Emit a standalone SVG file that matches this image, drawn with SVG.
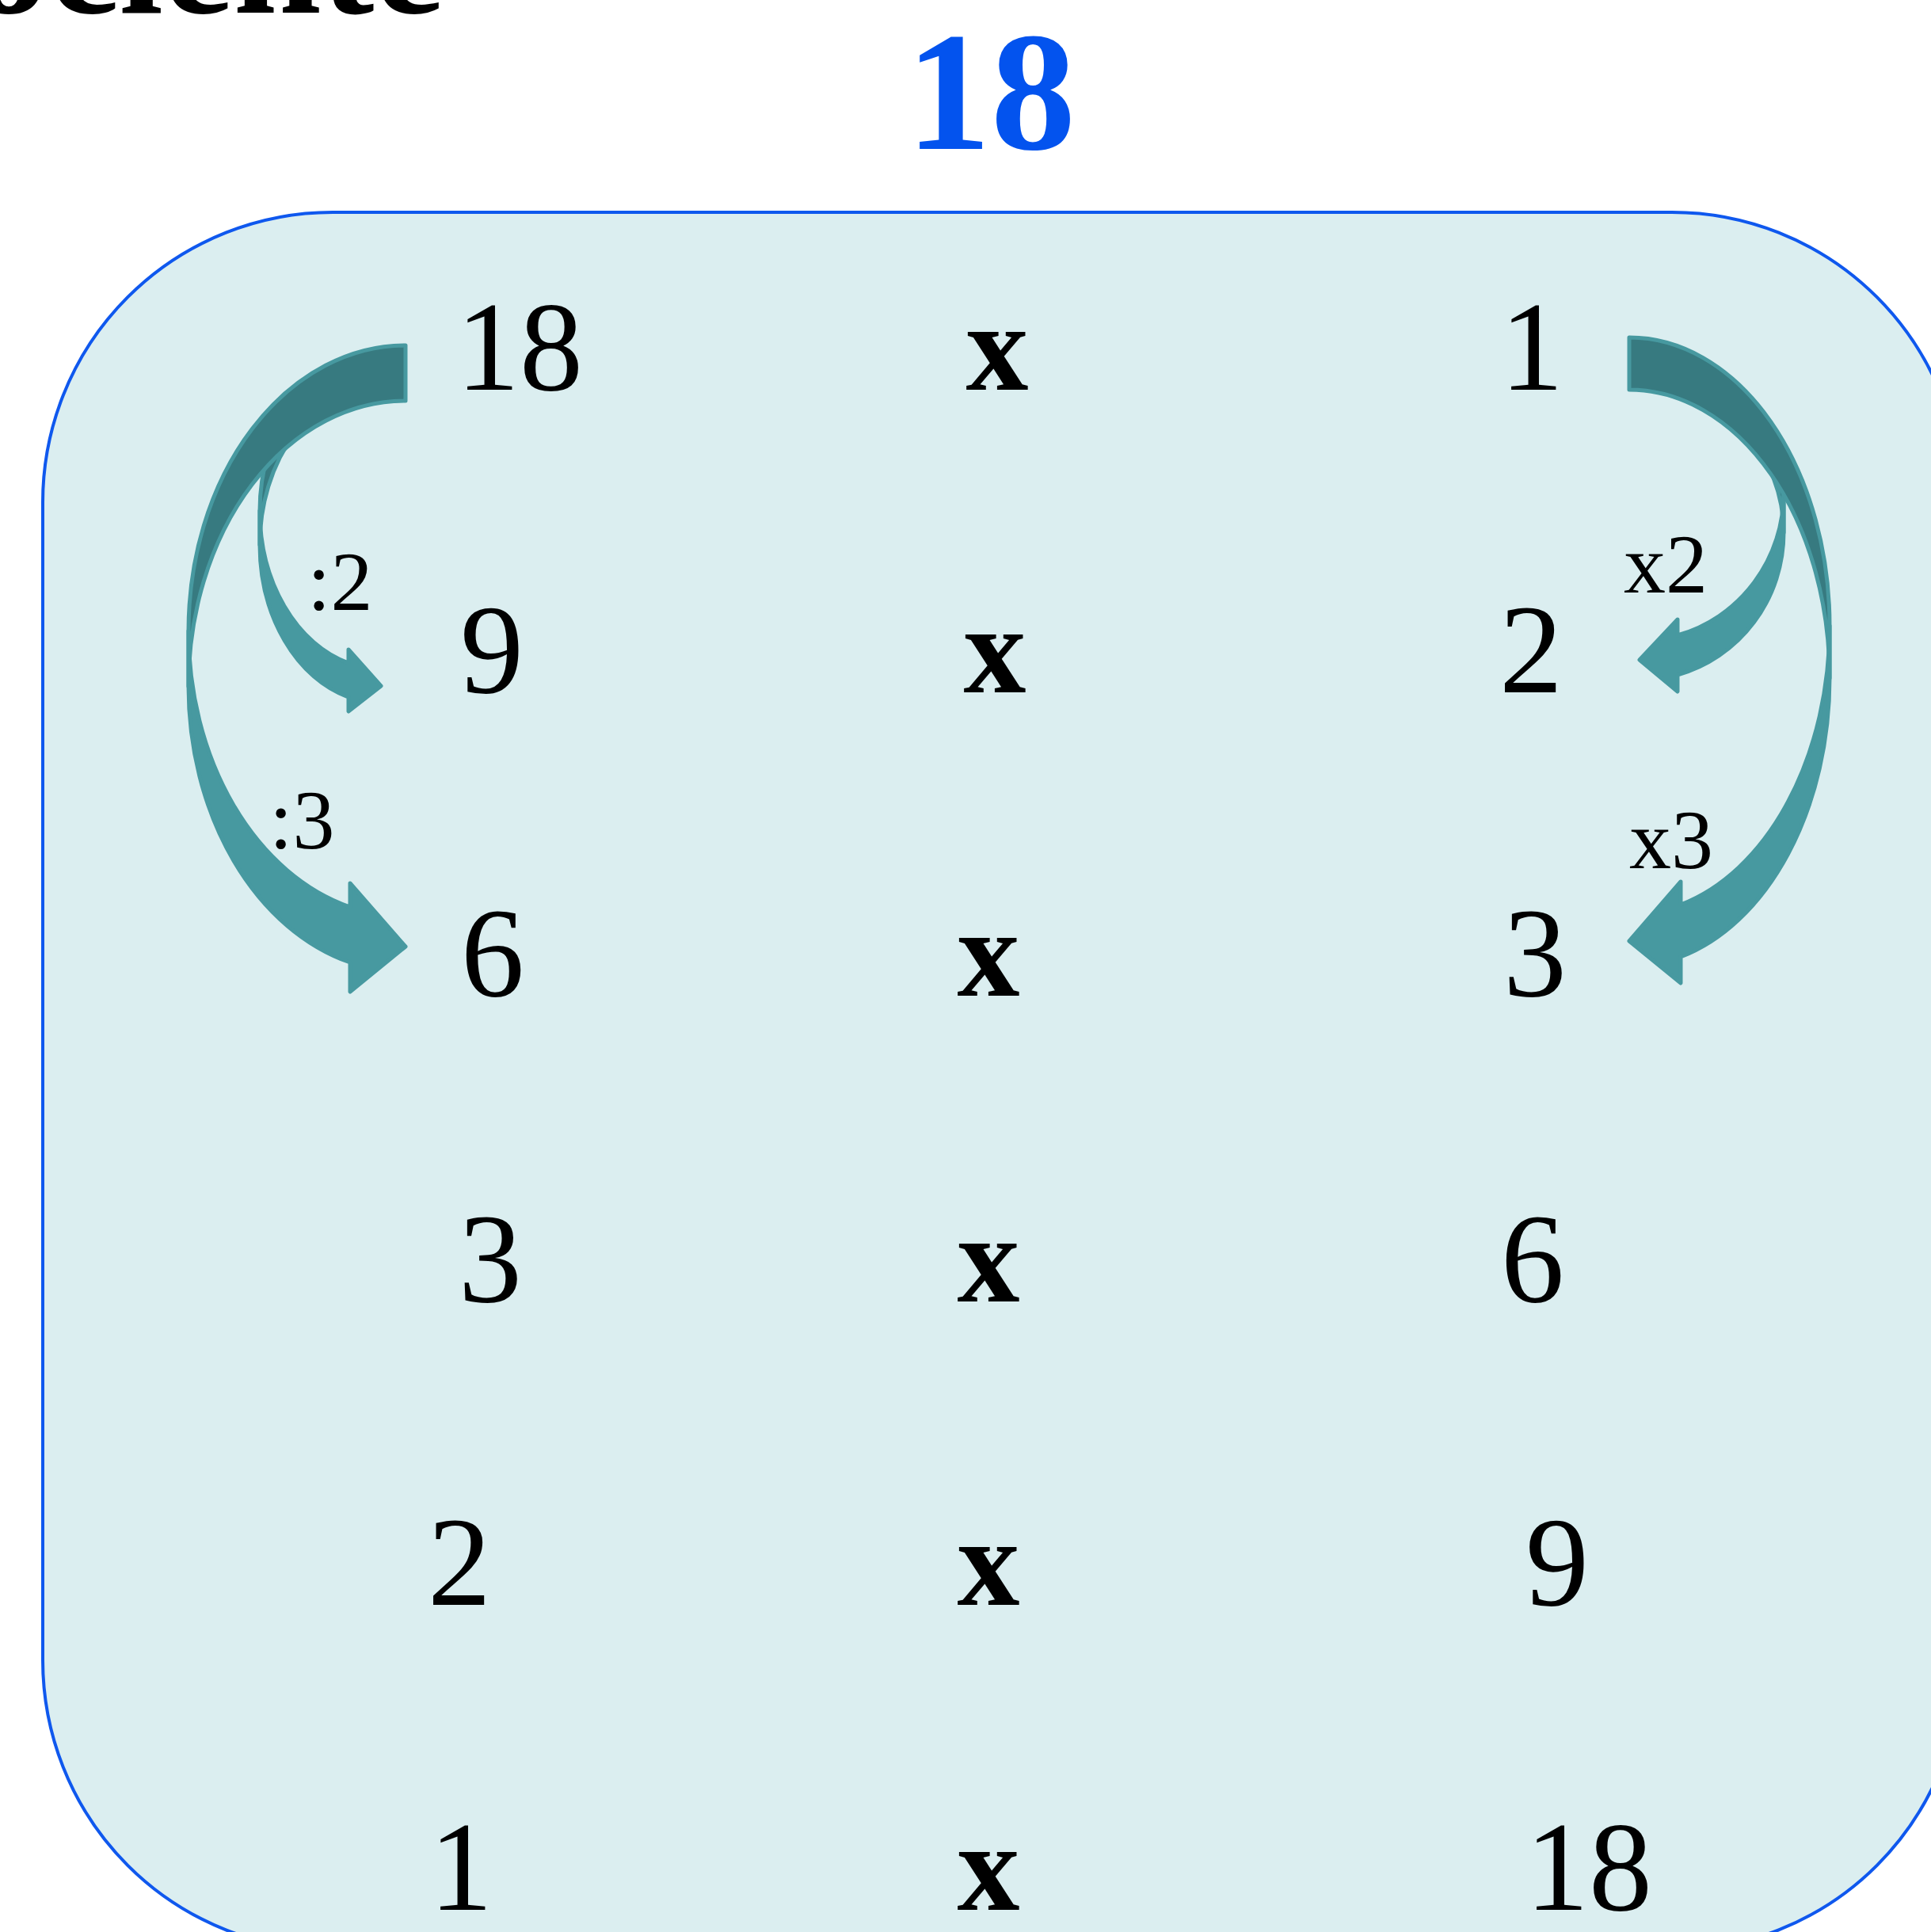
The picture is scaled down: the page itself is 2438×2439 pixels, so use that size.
<svg xmlns="http://www.w3.org/2000/svg" width="2438" height="2439" viewBox="0 0 2438 2439">
<style>
.num{font-family:"Liberation Serif","Times New Roman",serif;font-size:160px;fill:#000;text-anchor:middle}
.op{font-family:"Liberation Serif","Times New Roman",serif;font-size:158px;font-weight:bold;fill:#000;text-anchor:middle}
.lbl{font-family:"Liberation Serif","Times New Roman",serif;font-size:106px;fill:#000}
.back{fill:#377A80;stroke:#4799A0;stroke-width:5;stroke-linejoin:round}
.front{fill:#4799A0;stroke:#4799A0;stroke-width:5;stroke-linejoin:round}
</style>
<rect width="2438" height="2439" fill="#FFFFFF"/>
<g id="heading-cut">
<text x="-183" y="16" font-family="Liberation Serif" font-size="200" font-weight="bold" fill="#000">Cociente</text>
</g>
<g id="title">
<text x="1251" y="188" font-family="Liberation Serif" font-size="214" font-weight="bold" fill="#0353EE" text-anchor="middle">18</text>
</g>
<g id="frame">
<rect x="54" y="268" width="2423" height="2194" rx="366" ry="366" fill="#DBEEF0" stroke="#0F58EE" stroke-width="4"/>
</g>
<g id="connectors">
<g id="arrow-div2">
<path class="back" d="M 481,445 A 153 199.7 0 0 0 328,644.7 L 328,687.7 A 153 199.7 0 0 1 481,488 Z"/>
<path class="front" d="M 328,644.7 A 153 199.7 0 0 0 440,837.1 L 440,820 L 481,866 L 440,898 L 440,880.1 A 153 199.7 0 0 1 328,687.7 Z"/>
</g>
<g id="arrow-div3">
<path class="back" d="M 512,436 A 274 360.5 0 0 0 238,796.5 L 238,866.5 A 274 360.5 0 0 1 512,506 Z"/>
<path class="front" d="M 238,796.5 A 274 360.5 0 0 0 442,1145 L 442,1115 L 512,1195 L 442,1252 L 442,1215 A 274 360.5 0 0 1 238,866.5 Z"/>
</g>
<g id="arrow-mul2">
<path class="back" d="M 2070,436 A 182 186.3 0 0 1 2252,622.3 L 2252,672.3 A 182 186.3 0 0 0 2070,486 Z"/>
<path class="front" d="M 2252,622.3 A 182 186.3 0 0 1 2118,802 L 2118,782 L 2070,833 L 2118,873 L 2118,852 A 182 186.3 0 0 0 2252,672.3 Z"/>
</g>
<g id="arrow-mul3">
<path class="back" d="M 2057,426 A 253 364.1 0 0 1 2310,790.1 L 2310,856.1 A 253 364.1 0 0 0 2057,492 Z"/>
<path class="front" d="M 2310,790.1 A 253 364.1 0 0 1 2122,1142 L 2122,1113 L 2057,1188 L 2122,1241 L 2122,1208 A 253 364.1 0 0 0 2310,856.1 Z"/>
</g>
<text class="lbl" x="388" y="770">:2</text>
<text class="lbl" x="340" y="1071">:3</text>
<text class="lbl" x="2050" y="748">x2</text>
<text class="lbl" x="2057" y="1096">x3</text>
</g>
<g id="row1">
<g id="r1-left"><text class="num" x="656" y="492">18</text></g>
<g id="r1-op"><text class="op" x="1259" y="492">x</text></g>
<g id="r1-right"><text class="num" x="1934" y="492">1</text></g>
</g>
<g id="row2">
<g id="r2-left"><text class="num" x="621" y="874">9</text></g>
<g id="r2-op"><text class="op" x="1256" y="874">x</text></g>
<g id="r2-right"><text class="num" x="1933" y="874">2</text></g>
</g>
<g id="row3">
<g id="r3-left"><text class="num" x="622" y="1257">6</text></g>
<g id="r3-op"><text class="op" x="1248" y="1257">x</text></g>
<g id="r3-right"><text class="num" x="1938" y="1257">3</text></g>
</g>
<g id="row4">
<g id="r4-left"><text class="num" x="619" y="1643">3</text></g>
<g id="r4-op"><text class="op" x="1248" y="1643">x</text></g>
<g id="r4-right"><text class="num" x="1935" y="1643">6</text></g>
</g>
<g id="row5">
<g id="r5-left"><text class="num" x="580" y="2026">2</text></g>
<g id="r5-op"><text class="op" x="1248" y="2026">x</text></g>
<g id="r5-right"><text class="num" x="1966" y="2026">9</text></g>
</g>
<g id="row6">
<g id="r6-left"><text class="num" x="582" y="2411">1</text></g>
<g id="r6-op"><text class="op" x="1248" y="2411">x</text></g>
<g id="r6-right"><text class="num" x="2006" y="2411">18</text></g>
</g>
</svg>
